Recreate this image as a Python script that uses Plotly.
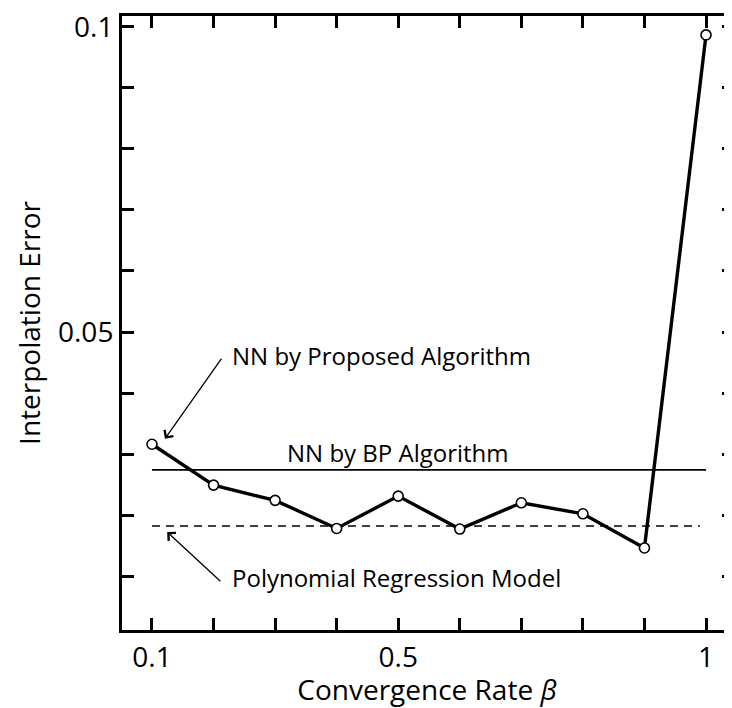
import plotly.graph_objects as go

# ---- data ----
beta = [0.1, 0.2, 0.3, 0.4, 0.5, 0.6, 0.7, 0.8, 0.9, 1.0]
nn_proposed = [0.0316, 0.0249, 0.0224, 0.0178, 0.0231, 0.0177, 0.0220, 0.0202, 0.0146, 0.0987]
bp_level = 0.0274
poly_level = 0.0182
bp_x = [0.1, 1.0]
poly_x = [0.1, 0.99]

x_tickvals = [0.1, 0.2, 0.3, 0.4, 0.5, 0.6, 0.7, 0.8, 0.9, 1.0]
x_ticktext = ["0.1", "", "", "", "0.5", "", "", "", "", "1"]
y_tickvals = [0.01, 0.02, 0.03, 0.04, 0.05, 0.06, 0.07, 0.08, 0.09, 0.1]
y_ticktext = ["", "", "", "", "0.05", "", "", "", "", "0.1"]

label_proposed = "NN by Proposed Algorithm"
label_bp = "NN by BP Algorithm"
label_poly = "Polynomial Regression Model"

FONT = "Open Sans"
ANN = 24
TICK = 28
TITLE = 28
Y_RANGE = [0.00115, 0.1018]
X_RANGE = [0.0513, 1.0422]

fig = go.Figure()
fig.add_trace(go.Scatter(x=bp_x, y=[bp_level] * len(bp_x), mode="lines",
                         line=dict(color="black", width=1.6), showlegend=False))
fig.add_trace(go.Scatter(x=poly_x, y=[poly_level] * len(poly_x), mode="lines",
                         line=dict(color="black", width=1.6, dash="8px,6px"), showlegend=False))
fig.add_trace(go.Scatter(x=beta, y=nn_proposed, mode="lines+markers",
                         line=dict(color="black", width=3.4),
                         marker=dict(symbol="circle", size=10, color="white",
                                     line=dict(color="black", width=1.6)),
                         showlegend=False))
# invisible trace for the right tick axis
fig.add_trace(go.Scatter(x=[beta[0]], y=[nn_proposed[0]], yaxis="y2", mode="markers",
                         marker=dict(opacity=0), showlegend=False, hoverinfo="skip"))

fig.add_annotation(x=0.2266, y=0.0461, text=label_proposed, showarrow=False,
                   xanchor="left", yanchor="middle", font=dict(size=ANN, family=FONT, color="black"))
fig.add_annotation(x=0.5, y=0.0302, text=label_bp, showarrow=False,
                   xanchor="center", yanchor="middle", font=dict(size=ANN, family=FONT, color="black"))
fig.add_annotation(x=0.2266, y=0.0097, text=label_poly, showarrow=False,
                   xanchor="left", yanchor="middle", font=dict(size=ANN, family=FONT, color="black"))
# arrows
fig.add_annotation(x=0.121, y=0.0325, ax=0.2146, ay=0.0459, axref="x", ayref="y",
                   text="", showarrow=True, arrowhead=4, arrowsize=1.6, arrowwidth=1.3,
                   arrowcolor="black")
fig.add_annotation(x=0.1247, y=0.0172, ax=0.2136, ay=0.0089, axref="x", ayref="y",
                   text="", showarrow=True, arrowhead=4, arrowsize=1.6, arrowwidth=1.3,
                   arrowcolor="black")

# page body has an 8px default margin, so the figure is 8px smaller than the window
fig.update_layout(
    width=724, height=700,
    margin=dict(l=114, r=0, t=8, b=78, autoexpand=False),
    paper_bgcolor="white", plot_bgcolor="white",
    font=dict(family=FONT, color="black", size=TICK),
    xaxis=dict(range=X_RANGE, tickvals=x_tickvals, ticktext=x_ticktext,
               ticks="inside", ticklen=12, tickwidth=3, tickcolor="black",
               showline=True, linewidth=3, linecolor="black", mirror="ticks",
               showgrid=False, zeroline=False, automargin=False,
               tickfont=dict(size=TICK, family=FONT),
               title=dict(text="Convergence Rate <i>β</i>", font=dict(size=TITLE, family=FONT), standoff=0)),
    yaxis=dict(range=Y_RANGE, tickvals=y_tickvals, ticktext=y_ticktext,
               ticks="inside", ticklen=12, tickwidth=3, tickcolor="black",
               showline=True, linewidth=3, linecolor="black",
               showgrid=False, zeroline=False, automargin=False,
               ticklabeloverflow="allow",
               tickfont=dict(size=TICK, family=FONT),
               title=dict(text="Interpolation Error", font=dict(size=TITLE, family=FONT), standoff=10)),
    yaxis2=dict(overlaying="y", side="right", matches="y", range=Y_RANGE,
                tickvals=y_tickvals, showticklabels=False, automargin=False,
                ticks="inside", ticklen=10, tickwidth=3, tickcolor="black",
                showline=False, showgrid=False, zeroline=False),
)

fig.write_html("out.html")
